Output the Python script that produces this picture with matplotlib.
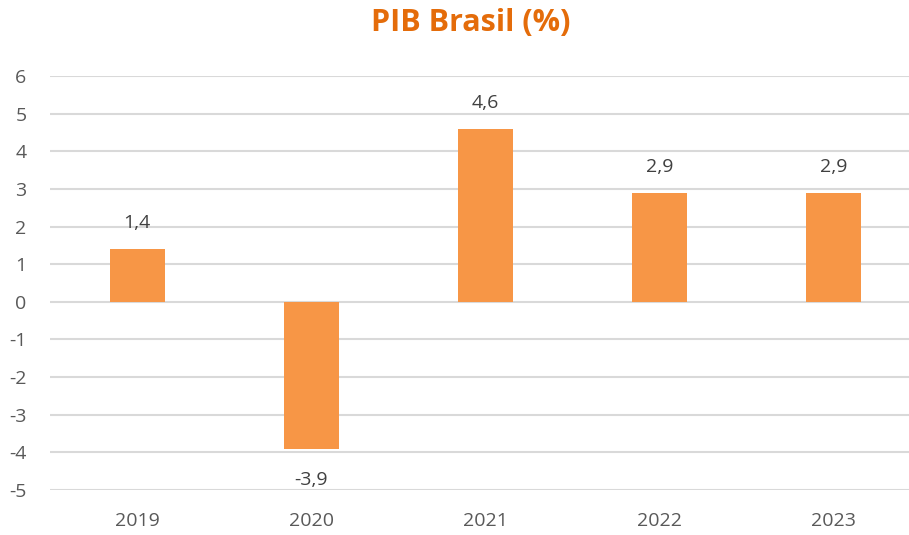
import matplotlib.pyplot as plt

# Data
anos = ['2019', '2020', '2021', '2022', '2023']
pib = [1.4, -3.9, 4.6, 2.9, 2.9]
rotulos = ['1,4', '-3,9', '4,6', '2,9', '2,9']
yticks = list(range(-5, 7))

plt.rcParams['font.family'] = ['Open Sans', 'DejaVu Sans']

fig = plt.figure(figsize=(9.09, 5.35), dpi=100)
ax = fig.add_axes([50 / 909, 1 - 490 / 535, 871 / 909, 414 / 535])

x = range(len(anos))
bars = ax.bar(x, pib, width=0.315, color='#F79646', zorder=3)

for xi, v, txt in zip(x, pib, rotulos):
    off = 12 if v >= 0 else -16
    ax.annotate(txt, (xi, v), xytext=(0, off), textcoords='offset points',
                ha='center', va='bottom' if v >= 0 else 'top',
                fontsize=14, color='#404040')

ax.set_xlim(-0.5, len(anos) - 0.5)
ax.set_ylim(-5, 6)
ax.set_yticks(yticks)
ax.set_yticklabels([str(t) for t in yticks])
ax.set_xticks(list(x))
ax.set_xticklabels(anos)
ax.tick_params(length=0, labelsize=14, labelcolor='#595959')
ax.tick_params(axis='x', pad=16)
ax.tick_params(axis='y', pad=17)
ax.yaxis.grid(True, color='#D9D9D9', linewidth=1.5, zorder=0)
for s in ax.spines.values():
    s.set_visible(False)

fig.text(471 / 909, 1 - 23 / 535, 'PIB Brasil (%)', ha='center', va='center',
         fontsize=22, fontweight='bold', color='#E46C0A')

fig.savefig('out.png', dpi=100)
